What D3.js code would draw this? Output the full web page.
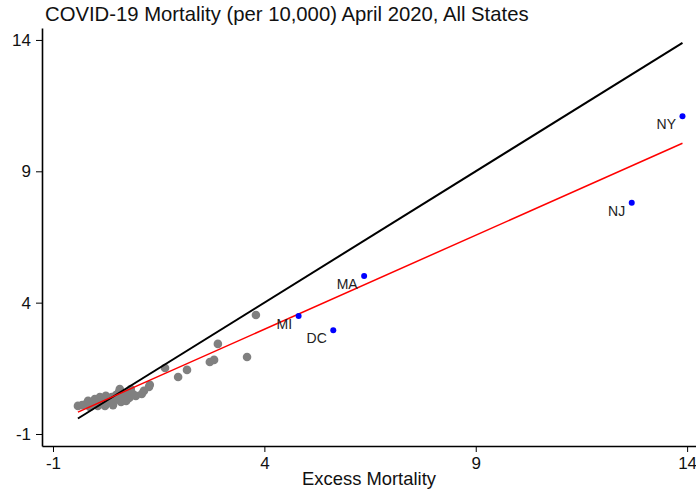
<!DOCTYPE html>
<html>
<head>
<meta charset="utf-8">
<script src="https://cdn.jsdelivr.net/npm/d3@7"></script>
<style>
  body { margin: 0; background: #fff; }
  svg { display: block; font-family: "Liberation Sans", Arial, sans-serif; }
</style>
</head>
<body>
<div id="chart"></div>
<script>
// highlighted states
const hiLabels = ["NY", "NJ", "MA", "MI", "DC"];
const hiX = [13.89, 12.69, 6.36, 4.81, 5.63];
const hiY = [11.10, 7.80, 5.01, 3.49, 2.95];

// all other states
const otherX = [-0.41, -0.31, -0.22, -0.17, -0.08, -0.01, 0.04, 0.11, 0.16, 0.21,
  0.25, 0.30, 0.35, 0.39, 0.44, 0.49, 0.54, 0.56, 0.61, 0.65,
  0.70, 0.75, 0.77, 0.82, 0.84, 0.89, 0.80, 0.58, 0.23, 1.10,
  1.15, 1.27, 1.29, 1.65, 1.96, 2.17, 2.71, 2.81, 2.90, 3.59,
  3.80, 0.96, 0.42, -0.13, 0.06, 0.73];
const otherY = [0.07, 0.10, 0.14, 0.26, 0.18, 0.33, 0.22, 0.41, 0.29, 0.14,
  0.45, 0.33, 0.22, 0.41, 0.29, 0.48, 0.37, 0.60, 0.22, 0.45,
  0.52, 0.33, 0.60, 0.41, 0.71, 0.52, 0.37, 0.71, 0.07, 0.52,
  0.64, 0.79, 0.87, 1.51, 1.17, 1.44, 1.74, 1.82, 2.43, 1.93,
  3.53, 0.45, 0.10, 0.03, 0.07, 0.26];

// linear fit of mortality on excess mortality
const fitIntercept = 0.124;
const fitSlope = 0.716;

const tickValues = [-1, 4, 9, 14];
const titleText = "COVID-19 Mortality (per 10,000) April 2020, All States";
const xTitle = "Excess Mortality";

const width = 696, height = 499;

const svg = d3.select("#chart").append("svg")
    .attr("width", width)
    .attr("height", height);

const x = d3.scaleLinear().domain([-1.26, 14.21]).range([42, 696]);
const y = d3.scaleLinear().domain([-1.457, 14.455]).range([446, 28]);

const others = otherX.map((d, i) => ({x: d, y: otherY[i]}));
const highs = hiX.map((d, i) => ({x: d, y: hiY[i], label: hiLabels[i]}));
const xExt = d3.extent(others.concat(highs), d => d.x);

// title
svg.append("text")
    .attr("x", 45)
    .attr("y", 21)
    .attr("font-size", 20.3)
    .attr("fill", "#111")
    .text(titleText);

// axes, plain hyphen for negatives like the original
const fmt = d => String(d);
const xAxis = svg.append("g")
    .attr("transform", `translate(0,446)`)
    .call(d3.axisBottom(x).tickValues(tickValues).tickFormat(fmt).tickSizeInner(6).tickSizeOuter(0).tickPadding(5));
const yAxis = svg.append("g")
    .attr("transform", `translate(42,0)`)
    .call(d3.axisLeft(y).tickValues(tickValues).tickFormat(fmt).tickSizeInner(6).tickSizeOuter(0).tickPadding(5));

[xAxis, yAxis].forEach(g => {
    g.select(".domain").attr("stroke", "#000").attr("stroke-width", 1.6);
    g.selectAll(".tick line").attr("stroke", "#000").attr("stroke-width", 1);
    g.selectAll(".tick text").attr("font-size", 17).attr("fill", "#111")
        .attr("font-family", "'Liberation Sans', Arial, sans-serif");
});

svg.append("text")
    .attr("x", 369)
    .attr("y", 485)
    .attr("text-anchor", "middle")
    .attr("font-size", 18.4)
    .attr("fill", "#111")
    .text(xTitle);

// gray points
svg.append("g").selectAll("circle")
    .data(others)
    .join("circle")
    .attr("cx", d => x(d.x))
    .attr("cy", d => y(d.y))
    .attr("r", 4.3)
    .attr("fill", "#808080");

// 45 degree line
const line = d3.line().x(d => x(d[0])).y(d => y(d[1]));
svg.append("path")
    .attr("d", line([[xExt[0], xExt[0]], [xExt[1], xExt[1]]]))
    .attr("stroke", "#000")
    .attr("stroke-width", 2)
    .attr("fill", "none");

// fitted line
svg.append("path")
    .attr("d", line(xExt.map(v => [v, fitIntercept + fitSlope * v])))
    .attr("stroke", "#ff0000")
    .attr("stroke-width", 1.5)
    .attr("fill", "none");

// highlighted points
svg.append("g").selectAll("circle")
    .data(highs)
    .join("circle")
    .attr("cx", d => x(d.x))
    .attr("cy", d => y(d.y))
    .attr("r", 3)
    .attr("fill", "#0000ff");

svg.append("g").selectAll("text")
    .data(highs)
    .join("text")
    .attr("x", d => x(d.x) - 6.5)
    .attr("y", d => y(d.y) + 13)
    .attr("text-anchor", "end")
    .attr("font-size", 14)
    .attr("fill", "#222")
    .text(d => d.label);
</script>
</body>
</html>
